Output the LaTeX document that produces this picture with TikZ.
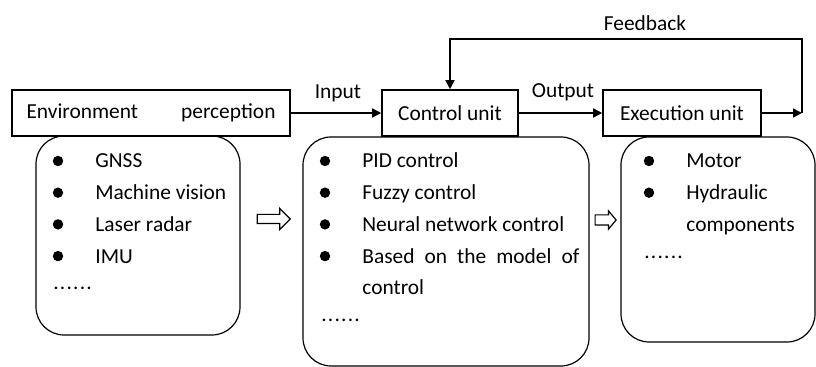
\documentclass[tikz,border=0pt]{standalone}
\usepackage{fontspec}
\setmainfont{Carlito}
\usetikzlibrary{arrows.meta,shapes.arrows}

\tikzset{
  unitbox/.style={draw,line width=0.8pt,fill=white,minimum height=23pt,inner sep=0pt},
  listbox/.style={draw,line width=0.6pt,rounded corners=14pt,inner sep=0pt},
  itemtext/.style={anchor=base west,inner sep=0pt},
  bulletdot/.style={circle,fill,inner sep=0pt,minimum size=5.2pt},
  flow/.style={line width=0.8pt,-{Triangle[length=4.5pt,width=4.5pt]}},
  hollow/.style={single arrow,draw,line width=0.6pt,inner sep=0pt,single arrow head indent=0pt}
}
% bullet list: name, bullet x, text x, first baseline, items
\newcommand\bulletlist[5]{\foreach \txt [count=\i] in {#5} {
    \node[bulletdot] (#1b\i) at (#2, {#4+31.7*(\i-1)-7}) {};
    \node[itemtext] (#1t\i) at (#3, {#4+31.7*(\i-1)}) {\txt};}}
\newcommand\moredots{.\kern.6pt.\kern.6pt.\kern.6pt.\kern.6pt.\kern.6pt.}

\begin{document}
\begin{tikzpicture}[x=0.5pt,y=-0.5pt,font=\fontsize{10.7pt}{12pt}\selectfont]
      \useasboundingbox (0,0) rectangle (816,367);

      % list boxes
      \node[listbox,minimum width=102pt,minimum height=99.5pt] (envlist) at (138,235.5) {};
      \node[listbox,minimum width=143pt,minimum height=114.5pt] (ctrllist) at (446,251.5) {};
      \node[listbox,minimum width=97pt,minimum height=102.5pt] (execlist) at (718,239.5) {};

      % unit boxes
      \node[unitbox,minimum width=139pt] (env) at (151,113) {\makebox[124.5pt][s]{Environment perception}};
      \node[unitbox,minimum width=68pt] (ctrl) at (450,113) {Control unit};
      \node[unitbox,minimum width=79pt] (exec) at (682,113) {Execution unit};

      \node (input) at (338,93) {Input};
      \node (output) at (563,92) {Output};
      \node (feedback) at (645,23) {Feedback};

      \coordinate (fb) at (802,113);
      \coordinate (fbtop) at (802,39);
      \draw[flow] (env) -- (ctrl);
      \draw[flow] (ctrl) -- (exec);
      \draw[flow] (exec) -- (fb);
      \draw[flow] (fb) -- (fbtop) -| (ctrl);

      \bulletlist{e}{58}{95}{168}{GNSS, Machine vision, Laser radar, IMU}
      \node[itemtext] (emore) at (53,290) {\moredots};

      \bulletlist{c}{325}{362}{168}{PID control, Fuzzy control, Neural network control, \makebox[108.5pt][s]{Based on the model of}}
      \node[itemtext] (ct5) at (362,295) {control};
      \node[itemtext] (cmore) at (321,322) {\moredots};

      \bulletlist{x}{649}{686}{168}{Motor, Hydraulic}
      \node[itemtext] (xt3) at (686,232) {components};
      \node[itemtext] (xmore) at (644,259) {\moredots};

      \node[hollow,minimum height=16.5pt,inner ysep=2pt,single arrow head extend=3pt,single arrow tip angle=90] (arrA) at (271.5,219) {};
      \node[hollow,minimum height=10.5pt,inner ysep=2.25pt,single arrow head extend=2pt,single arrow tip angle=100] (arrB) at (603.5,220) {};
    \end{tikzpicture}
\end{document}
